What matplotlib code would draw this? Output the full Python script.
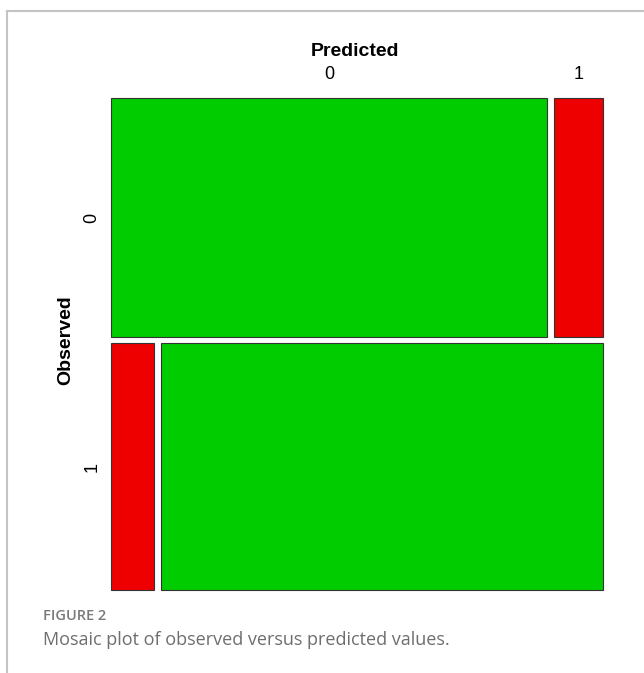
import matplotlib
matplotlib.use("Agg")
import matplotlib.pyplot as plt
from matplotlib.patches import Rectangle
from matplotlib.lines import Line2D

observed = ["0", "1"]
predicted = ["0", "1"]
counts = [[178, 20], [18, 186]]
cell_colors = [["#00CC00", "#EE0000"], ["#EE0000", "#00CC00"]]

W, H = 644, 673
fig = plt.figure(figsize=(W / 100, H / 100), dpi=100)
fig.patch.set_facecolor("white")

# frame lines
fig.add_artist(Line2D([7 / W, 7 / W], [0, 1 - 11 / H], color="#c4c4c4", lw=1.5, transform=fig.transFigure))
fig.add_artist(Line2D([7 / W, 1], [1 - 11 / H, 1 - 11 / H], color="#c4c4c4", lw=1.5, transform=fig.transFigure))

x0, x1, y0, y1 = 111, 603, 98, 590
ax = fig.add_axes([x0 / W, 1 - y1 / H, (x1 - x0) / W, (y1 - y0) / H])
ax.set_xlim(0, 1)
ax.set_ylim(1, 0)
ax.axis("off")

gx = 7 / (x1 - x0)
gy = 6 / (y1 - y0)
total = sum(sum(r) for r in counts)
font = "Liberation Sans"
ytop = 0
row_h_avail = 1 - gy * (len(observed) - 1)
for i, row in enumerate(counts):
    rh = row_h_avail * sum(row) / total
    xw_avail = 1 - gx * (len(predicted) - 1)
    xl = 0
    for j, c in enumerate(row):
        w = xw_avail * c / sum(row)
        ax.add_patch(Rectangle((xl, ytop), w, rh, facecolor=cell_colors[i][j],
                               edgecolor="#333333", lw=0.8, clip_on=False))
        if i == 0:
            ax.text(xl + w / 2, -0.03, predicted[j], ha="center", va="bottom",
                    fontsize=13, family=font, clip_on=False)
        xl += w + gx
    ax.text(-0.022, ytop + rh / 2, observed[i], ha="right", va="center", rotation=90,
            fontsize=13, family=font, clip_on=False)
    ytop += rh + gy

fig.text(355 / W, 1 - 52 / H, "Predicted", ha="center", va="center", fontsize=14,
         fontweight="bold", family=font)
fig.text(66 / W, 1 - 340 / H, "Observed", ha="center", va="center", fontsize=14,
         fontweight="bold", family=font, rotation=90)

fig.text(43 / W, 1 - 616 / H, "FIGURE 2", ha="left", va="center", fontsize=10.5,
         color="#7a7a7a", family="Open Sans", fontweight="semibold")
fig.text(43 / W, 1 - 640 / H, "Mosaic plot of observed versus predicted values.", ha="left",
         va="center", fontsize=13, color="#6e6e6e", family="Open Sans")

fig.savefig("out.png", dpi=100)
